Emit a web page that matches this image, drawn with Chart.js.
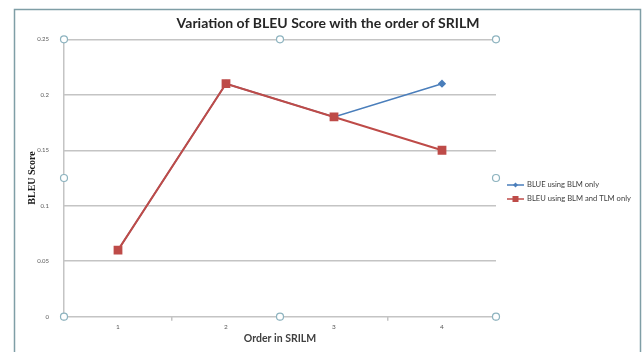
<!DOCTYPE html>
<html>
<head>
<meta charset="utf-8">
<script src="https://cdn.jsdelivr.net/npm/chart.js@4.4.1/dist/chart.umd.min.js"></script>
<style>
  html, body { margin: 0; padding: 0; background: #fff; }
  #wrap { width: 643px; height: 352px; }
</style>
</head>
<body>
<div id="wrap"><canvas id="bleu_chart" width="643" height="352"></canvas></div>
<script>
// data
const orders = ["1", "2", "3", "4"];
const bleuBlmOnly = [0.06, 0.21, 0.18, 0.21];
const bleuBlmTlm = [0.06, 0.21, 0.18, 0.15];
const yTicks = [0, 0.05, 0.1, 0.15, 0.2, 0.25];
const seriesNames = ["BLUE using BLM only", "BLEU using BLM and TLM only"];
const chartTitle = "Variation of BLEU Score with the order of SRILM";

const blue = "#4a7ebb";
const red = "#be4b48";
const gridGray = "#c4c4c4";

// outer frame of the embedded chart object + title (centred on the frame)
const framePlugin = {
  id: "frame",
  beforeDraw(chart) {
    const ctx = chart.ctx;
    ctx.save();
    ctx.fillStyle = "#fff";
    ctx.fillRect(0, 0, chart.width, chart.height);
    ctx.strokeStyle = "#7f9ea6";
    ctx.lineWidth = 1.5;
    ctx.strokeRect(14.5, 9.5, 626, 350);
    ctx.fillStyle = "#262626";
    ctx.font = "bold 14px Lato";
    ctx.textAlign = "center";
    ctx.textBaseline = "middle";
    ctx.fillText(chartTitle, 328, 23);
    ctx.restore();
  }
};

// selection handles round the plot area + legend on the right
const extrasPlugin = {
  id: "extras",
  afterDraw(chart) {
    const ctx = chart.ctx;
    const a = chart.chartArea;
    const mx = (a.left + a.right) / 2;
    const my = (a.top + a.bottom) / 2;
    const pts = [
      [a.left, a.top], [mx, a.top], [a.right, a.top],
      [a.left, my], [a.right, my],
      [a.left, a.bottom], [mx, a.bottom], [a.right, a.bottom]
    ];
    ctx.save();
    ctx.lineWidth = 1.2;
    ctx.strokeStyle = "#8db3bf";
    ctx.fillStyle = "#fff";
    pts.forEach(p => {
      ctx.beginPath();
      ctx.arc(p[0], p[1], 3.5, 0, Math.PI * 2);
      ctx.fill();
      ctx.stroke();
    });

    // legend
    const rows = [185, 199];
    ctx.font = "7.6px Lato";
    ctx.textBaseline = "middle";
    chart.data.datasets.forEach((ds, i) => {
      const y = rows[i];
      ctx.strokeStyle = ds.borderColor;
      ctx.lineWidth = 1.5;
      ctx.beginPath();
      ctx.moveTo(507, y);
      ctx.lineTo(524, y);
      ctx.stroke();
      ctx.fillStyle = ds.borderColor;
      if (ds.pointStyle === "rect") {
        ctx.fillRect(512.5, y - 3, 6, 6);
      } else {
        ctx.beginPath();
        ctx.moveTo(515.5, y - 2.5);
        ctx.lineTo(518, y);
        ctx.lineTo(515.5, y + 2.5);
        ctx.lineTo(513, y);
        ctx.closePath();
        ctx.fill();
      }
      ctx.fillStyle = "#404040";
      ctx.fillText(ds.label, 527, y);
    });
    ctx.restore();
  }
};

const chart = new Chart(document.getElementById("bleu_chart"), {
  type: "line",
  data: {
    labels: orders,
    datasets: [
      {
        label: seriesNames[0],
        data: bleuBlmOnly,
        borderColor: blue,
        backgroundColor: blue,
        borderWidth: 1.6,
        pointStyle: "rectRot",
        pointRadius: 3,
        order: 1
      },
      {
        label: seriesNames[1],
        data: bleuBlmTlm,
        borderColor: red,
        backgroundColor: red,
        borderWidth: 2,
        pointStyle: "rect",
        pointRadius: 4.8,
        order: 0
      }
    ]
  },
  plugins: [framePlugin, extrasPlugin],
  options: {
    responsive: false,
    animation: false,
    devicePixelRatio: 1,
    layout: { padding: { left: 14, top: 39.3, right: 0, bottom: 0 } },
    plugins: {
      legend: { display: false },
      tooltip: { enabled: false },
      title: { display: false }
    },
    scales: {
      x: {
        offset: true,
        grid: {
          offset: true,
          color: ctx => (ctx.index === 0 || ctx.index === orders.length ? gridGray : "rgba(0,0,0,0)"),
          lineWidth: 1.5,
          tickLength: 4,
          tickColor: gridGray
        },
        border: { display: false },
        ticks: {
          color: "#595959",
          font: { family: "Lato", size: 6.5 },
          padding: 2,
          maxRotation: 0
        },
        title: {
          display: true,
          text: "Order in SRILM",
          color: "#404040",
          font: { family: "Lato", size: 10.5, weight: "bold" },
          padding: { top: 0, bottom: 7 }
        },
        afterFit: s => { s.height = 35.3; }
      },
      y: {
        min: yTicks[0],
        max: yTicks[yTicks.length - 1],
        grid: { color: gridGray, lineWidth: 1.5, drawTicks: false },
        border: { display: false },
        ticks: {
          color: "#595959",
          font: { family: "Lato", size: 6 },
          padding: 15,
          callback: v => String(v)
        },
        afterBuildTicks: s => { s.ticks = yTicks.map(v => ({ value: v })); },
        title: {
          display: true,
          text: "BLEU Score",
          color: "#1a1a1a",
          font: { family: "Liberation Serif", size: 10, weight: "bold" },
          padding: { top: 12, bottom: 0 }
        },
        afterFit: s => { s.width = 50; }
      },
      // empty right-hand scale just to reserve room for the legend
      legendRoom: {
        type: "linear",
        position: "right",
        grid: { display: false },
        border: { display: false },
        ticks: { display: false },
        afterFit: s => { s.width = 147; }
      }
    }
  }
});
</script>
</body>
</html>
